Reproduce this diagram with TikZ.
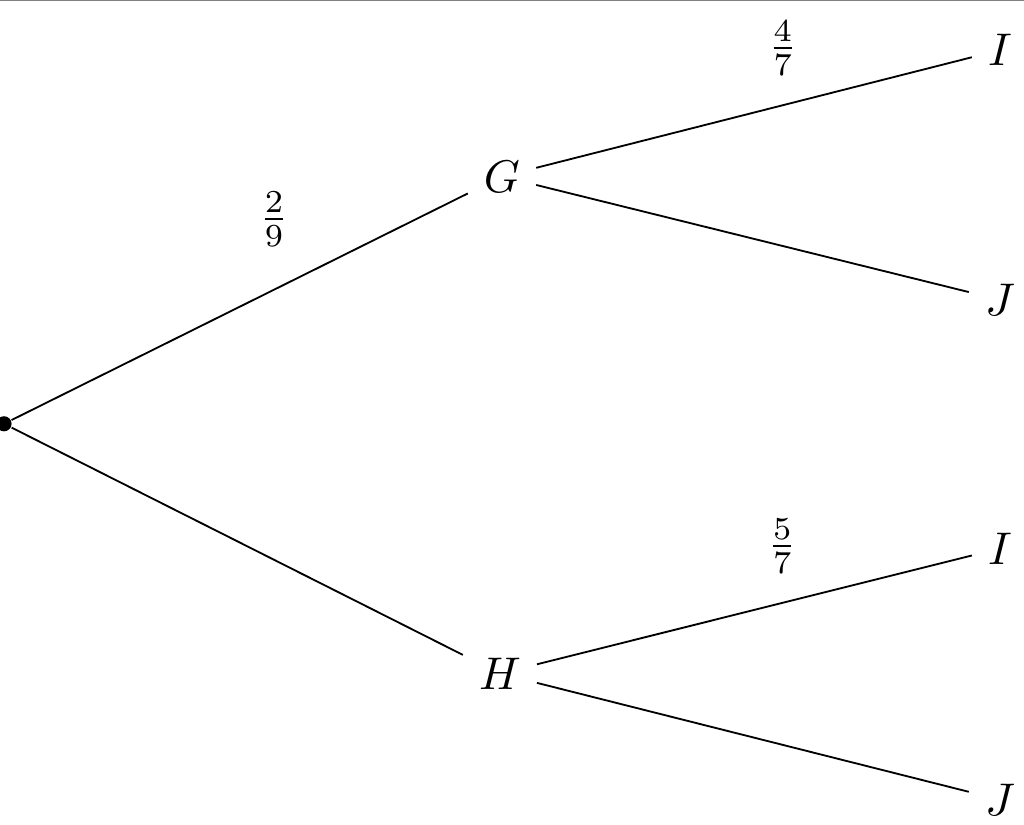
\documentclass[tikz,border=0pt]{standalone}
\usepackage{tikz}
\tikzset{dot/.style={circle,fill=black,inner sep=0pt,minimum size=3.3pt}}

\begin{document}
\begin{tikzpicture}
 	   		\def\lx{7.86}
 	   		\def\ly{6.33}
 	   		\useasboundingbox (0,0) rectangle (\lx,\ly);
 	   		\draw[gray,line width=0.45pt] (0,\ly)--(\lx,\ly);
 	   		\node[dot] (O) at (0.031,3.077) {};
 	   		\node (G) at (3.853,4.975) {$G$};
 	   		\node (H) at (3.837,1.160) {$H$};
 	   		\node (GI) at (7.675,5.945) {$I$};
 	   		\node (GJ) at (7.675,4.029) {$J$};
 	   		\node (HI) at (7.675,2.120) {$I$};
 	   		\node (HJ) at (7.675,0.192) {$J$};
 	   		    \draw (O)-- node[pos=0.575,above=6pt] {$\frac{2}{9}$} (G);
 	   		    \draw (O)--(H);
 	   		    \draw (G)-- node[pos=0.566,above=3pt] {$\frac{4}{7}$} (GI);
 	   		    \draw (G)--(GJ);
 	   		    \draw (H)-- node[pos=0.564,above=3pt] {$\frac{5}{7}$} (HI);
 	   		    \draw (H)--(HJ);
 	   		\end{tikzpicture}
\end{document}
